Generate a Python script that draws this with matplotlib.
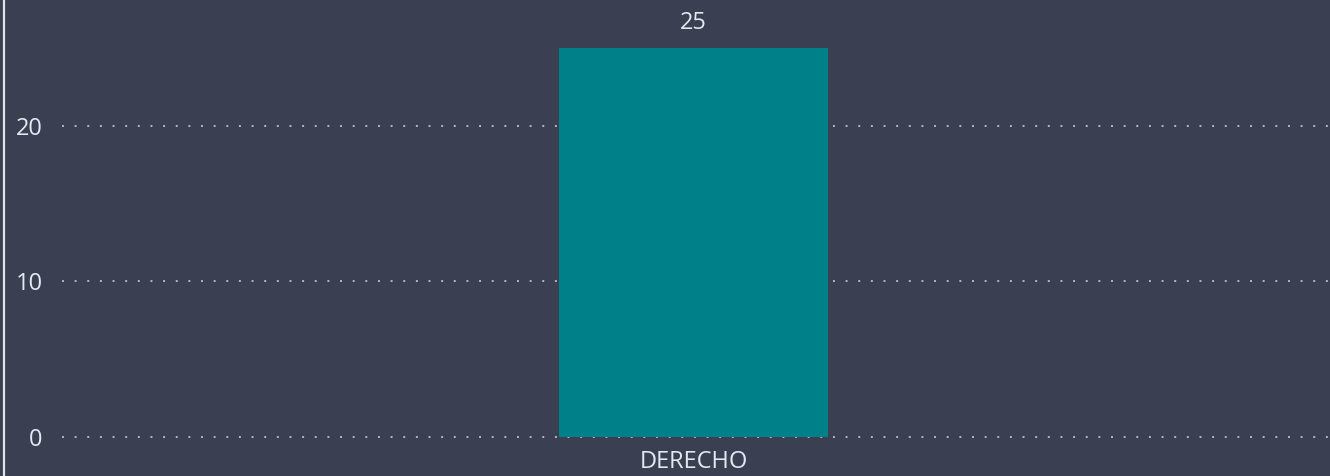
import matplotlib
matplotlib.use("Agg")
from matplotlib import pyplot as plt
from matplotlib.lines import Line2D

categories = ['DERECHO']
values = [25]
yticks = [0, 10, 20]

bg = '#3a3f51'
bar_color = '#008189'
text_color = '#e4e8f0'

plt.rcParams['font.family'] = ['Open Sans', 'DejaVu Sans']

fig = plt.figure(figsize=(13.3, 4.76), dpi=100, facecolor=bg)
ax = fig.add_axes([62 / 1330, 39 / 476, 1268 / 1330, 437 / 476])
ax.set_facecolor(bg)

x = list(range(len(categories)))
bars = ax.bar(x, values, width=0.212, color=bar_color, zorder=2)
for b, v in zip(bars, values):
    ax.text(b.get_x() + b.get_width() / 2, v + 0.85, str(v), ha='center', va='bottom',
            color=text_color, fontsize=17)

ax.set_xlim(-0.498, 0.502)
ax.set_ylim(0, 437 / 15.56)
ax.set_xticks(x)
ax.set_xticklabels(categories)
ax.set_yticks(yticks)
ax.tick_params(axis='both', length=0, colors=text_color, labelsize=17)
ax.tick_params(axis='y', pad=14)
ax.tick_params(axis='x', pad=9)

ax.yaxis.grid(True, color='#b4b8c0', linewidth=1.4, linestyle=(0, (1, 5.5)), zorder=1)
for gl in ax.get_ygridlines():
    gl.set_clip_on(False)
ax.set_axisbelow(True)
for s in ax.spines.values():
    s.set_visible(False)

fig.add_artist(Line2D([3.5 / 1330, 3.5 / 1330], [0, 1], transform=fig.transFigure,
                      color='#dde6f0', linewidth=1.6))

fig.savefig('out.png', dpi=100, facecolor=bg)
